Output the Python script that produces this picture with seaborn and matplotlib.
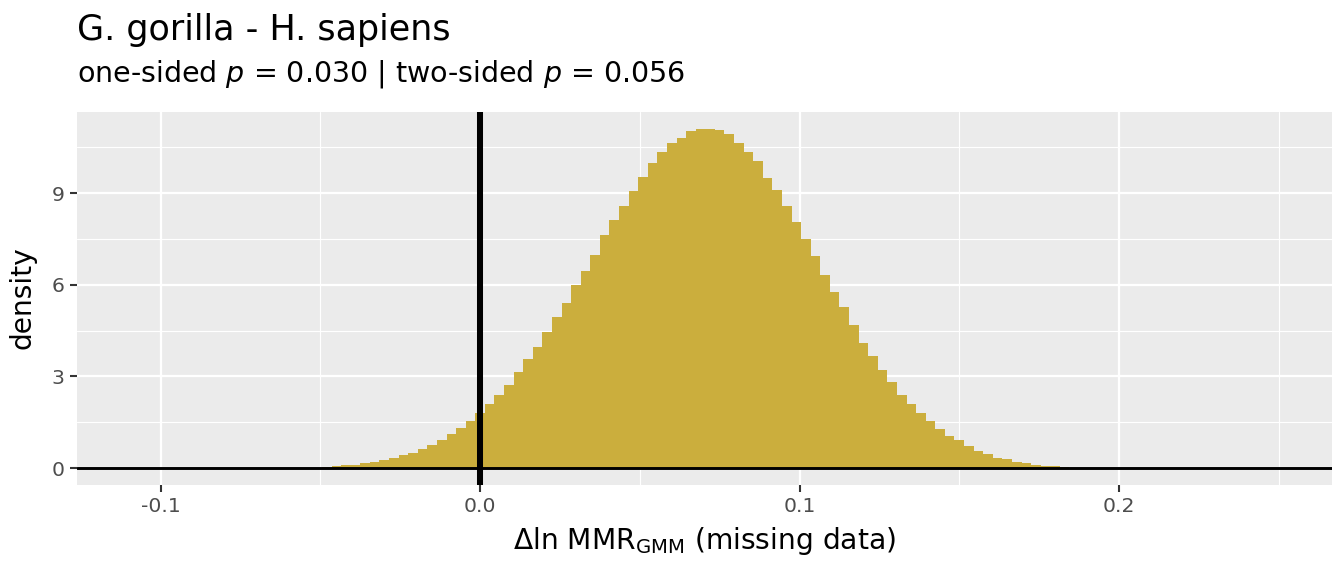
import numpy as np
import pandas as pd
import matplotlib
matplotlib.use("Agg")
import matplotlib.pyplot as plt
import seaborn as sns

# ==========================================
#   DATA (bin heights)
# ==========================================
bin_width = 0.003
first_bin = -16          # bin centres are k * bin_width
heights = [
    0.03, 0.07, 0.10, 0.10, 0.16, 0.20, 0.26, 0.33, 0.43, 0.49,
    0.62, 0.76, 0.92, 1.12, 1.31, 1.54, 1.80, 2.10, 2.40, 2.73,
    3.15, 3.58, 3.98, 4.47, 4.96, 5.42, 5.98, 6.44, 6.97, 7.62,
    8.12, 8.58, 9.07, 9.53, 9.99, 10.35, 10.65, 10.81, 11.04, 11.10,
    11.10, 11.07, 10.94, 10.65, 10.35, 10.06, 9.50, 9.10, 8.58, 8.05,
    7.49, 6.93, 6.31, 5.75, 5.26, 4.70, 4.11, 3.68, 3.22, 2.83,
    2.40, 2.10, 1.81, 1.54, 1.28, 1.05, 0.92, 0.72, 0.56, 0.46,
    0.33, 0.30, 0.20, 0.16, 0.10, 0.07, 0.07, 0.03,
]
centers = [(first_bin + i) * bin_width for i in range(len(heights))]
edges = [c - bin_width / 2 for c in centers] + [centers[-1] + bin_width / 2]

title = "G. gorilla - H. sapiens"
subtitle = r"one-sided $p$ = 0.030 | two-sided $p$ = 0.056"
x_label = r"$\Delta$ln MMR$_{\mathrm{GMM}}$ (missing data)"
y_label = "density"
x_ticks = [-0.1, 0.0, 0.1, 0.2]
x_tick_labels = ["-0.1", "0.0", "0.1", "0.2"]
y_ticks = [0, 3, 6, 9]

# ==========================================
#   STYLE (ggplot grey look)
# ==========================================
sns.set_theme(style="darkgrid", rc={
    "axes.facecolor": "#EBEBEB",
    "grid.color": "white",
    "axes.edgecolor": "#EBEBEB",
    "text.color": "black",
})
plt.rcParams["font.family"] = ["DejaVu Sans"]
plt.rcParams["mathtext.fontset"] = "dejavusans"

df = pd.DataFrame({"x": centers, "h": heights})

W, H = 1344, 576
fig = plt.figure(figsize=(8.96, 3.84), dpi=150)
ax = fig.add_axes([77 / W, 1 - 485 / H, (1332 - 77) / W, (485 - 112) / H])

sns.histplot(data=df, x="x", weights="h", bins=edges, stat="count",
             color="#CBAE3D", alpha=1, linewidth=0, ax=ax)

ax.axvline(0, color="black", lw=2.9, zorder=5)
ax.axhline(0, color="black", lw=1.4, zorder=5)

ax.set_xlim(-0.1262, 0.2667)
ax.set_ylim(-0.555, 11.66)

ax.set_xticks(x_ticks)
ax.set_xticklabels(x_tick_labels)
ax.set_yticks(y_ticks)
ax.set_xticks([-0.05, 0.05, 0.15, 0.25], minor=True)
ax.set_yticks([1.5, 4.5, 7.5, 10.5], minor=True)
ax.grid(which="major", color="white", lw=1.1)
ax.grid(which="minor", color="white", lw=0.55)
ax.set_axisbelow(True)
for s in ax.spines.values():
    s.set_visible(False)

ax.tick_params(axis="both", which="major", length=3.4, width=1.0, color="#333333",
               labelsize=9.8, labelcolor="#4D4D4D", pad=2.5, bottom=True, left=True)
ax.tick_params(which="minor", length=0)
ax.set_xlabel("")
ax.set_ylabel("")

fig.text(704 / W, 1 - 549 / H, x_label, fontsize=13.5, va="baseline", ha="center")
fig.text(23 / W, 1 - 298 / H, y_label, fontsize=13.5, va="center", ha="center",
         rotation=90)
fig.text(77 / W, 1 - 40 / H, title, fontsize=16.8, va="baseline", ha="left")
fig.text(77 / W, 1 - 82 / H, subtitle, fontsize=13.7, va="baseline", ha="left")

fig.savefig("out.png", dpi=150, facecolor="white")
